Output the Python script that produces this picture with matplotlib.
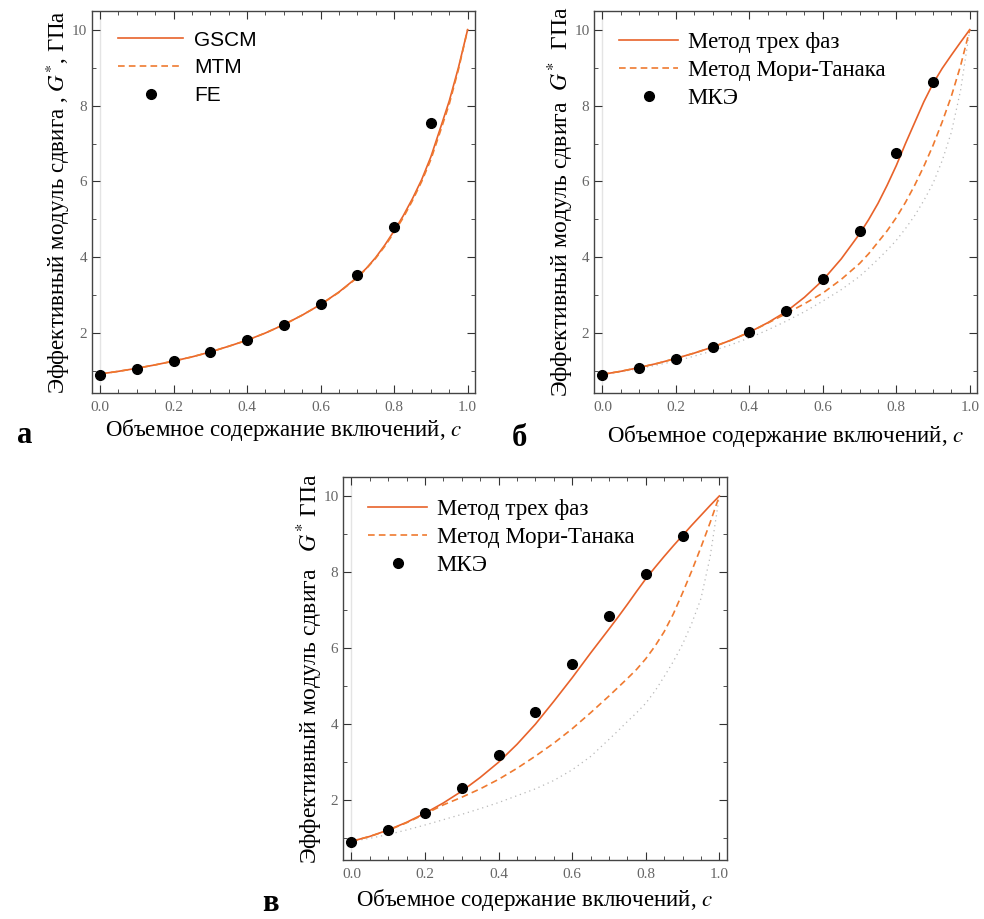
import matplotlib
matplotlib.use('Agg')
import matplotlib.pyplot as plt
from matplotlib.ticker import MultipleLocator

plt.rcParams['font.family'] = ['Liberation Serif', 'DejaVu Serif']
plt.rcParams['mathtext.fontset'] = 'stix'

# ---- data ----
x_fe = [0.0, 0.1, 0.2, 0.3, 0.4, 0.5, 0.6, 0.7, 0.8, 0.9]
x_line = [0.0, 0.05, 0.1, 0.15, 0.2, 0.25, 0.3, 0.35, 0.4, 0.45, 0.5, 0.55, 0.6, 0.65,
          0.7, 0.725, 0.75, 0.775, 0.8, 0.825, 0.85, 0.875, 0.9, 0.925, 0.95, 0.975, 1.0]

# panel a
a_gscm = [0.93, 1.0, 1.08, 1.17, 1.27, 1.38, 1.51, 1.66, 1.82, 2.01, 2.23, 2.48, 2.76, 3.09,
          3.48, 3.72, 4.0, 4.33, 4.70, 5.10, 5.55, 6.05, 6.65, 7.38, 8.12, 9.0, 10.0]
a_mtm = [0.93, 1.0, 1.08, 1.17, 1.27, 1.38, 1.51, 1.66, 1.82, 2.01, 2.23, 2.48, 2.76, 3.08,
         3.47, 3.71, 3.98, 4.30, 4.66, 5.05, 5.50, 6.0, 6.58, 7.30, 8.04, 8.95, 10.0]
a_fe = [0.90, 1.06, 1.27, 1.52, 1.82, 2.22, 2.77, 3.53, 4.80, 7.54]

# panel b
b_three = [0.92, 1.0, 1.10, 1.21, 1.34, 1.48, 1.64, 1.82, 2.03, 2.28, 2.57, 2.95, 3.40, 3.96,
           4.62, 5.0, 5.42, 5.90, 6.42, 7.0, 7.55, 8.10, 8.58, 8.98, 9.33, 9.67, 10.0]
b_mt = [0.92, 1.0, 1.10, 1.21, 1.34, 1.48, 1.64, 1.82, 2.03, 2.27, 2.52, 2.78, 3.06, 3.42,
        3.84, 4.10, 4.40, 4.70, 5.05, 5.45, 5.90, 6.40, 6.95, 7.57, 8.25, 9.05, 10.0]
b_low = [0.92, 0.99, 1.07, 1.17, 1.27, 1.40, 1.54, 1.70, 1.88, 2.09, 2.32, 2.57, 2.85, 3.15,
         3.50, 3.72, 3.95, 4.19, 4.45, 4.76, 5.10, 5.50, 5.95, 6.55, 7.30, 8.40, 10.0]
b_fe = [0.90, 1.10, 1.33, 1.63, 2.04, 2.60, 3.43, 4.69, 6.75, 8.61]

# panel c
c_three = [0.92, 1.05, 1.22, 1.42, 1.66, 1.93, 2.24, 2.60, 3.00, 3.47, 4.00, 4.60, 5.22, 5.87,
           6.50, 6.82, 7.15, 7.49, 7.82, 8.12, 8.41, 8.69, 8.96, 9.23, 9.49, 9.75, 10.0]
c_mt = [0.92, 1.05, 1.21, 1.41, 1.64, 1.88, 2.08, 2.30, 2.55, 2.84, 3.16, 3.50, 3.88, 4.30,
        4.74, 4.97, 5.20, 5.44, 5.72, 6.05, 6.43, 6.90, 7.45, 8.03, 8.65, 9.30, 10.0]
c_low = [0.92, 1.0, 1.10, 1.22, 1.35, 1.49, 1.63, 1.78, 1.94, 2.12, 2.30, 2.52, 2.80, 3.15,
         3.60, 3.83, 4.07, 4.30, 4.55, 4.87, 5.25, 5.65, 6.10, 6.65, 7.30, 8.40, 10.0]
c_fe = [0.90, 1.21, 1.67, 2.33, 3.20, 4.31, 5.57, 6.84, 7.96, 8.96]

x_ticks = [0.0, 0.2, 0.4, 0.6, 0.8, 1.0]
x_ticklabels = ['0.0', '0.2', '0.4', '0.6', '0.8', '1.0']
y_ticks = [2, 4, 6, 8, 10]

ORANGE = '#e8622a'
ORANGE2 = '#ef7a30'
DOT_GRAY = '#b8b8b8'
TICK_GRAY = '#666666'
DASH = (0, (4, 2.5))

xlabel = 'Объемное содержание включений, $c$'


def style_axes(ax, xpad):
    ax.set_xlim(-0.022, 1.02)
    ax.set_ylim(0.43, 10.49)
    ax.set_xticks(x_ticks)
    ax.set_xticklabels(x_ticklabels)
    ax.set_yticks(y_ticks)
    ax.xaxis.set_minor_locator(MultipleLocator(0.05))
    ax.yaxis.set_minor_locator(MultipleLocator(1))
    ax.tick_params(which='both', direction='in', top=True, right=True,
                   color='#333333', labelcolor=TICK_GRAY, labelsize=11)
    ax.tick_params(axis='x', which='major', pad=6)
    ax.tick_params(which='major', length=6, width=0.8)
    ax.tick_params(which='minor', length=3, width=0.6)
    for s in ax.spines.values():
        s.set_color('#444444')
        s.set_linewidth(1.0)
    ax.axvline(0, color='#e4e4e4', lw=1.0, zorder=0)
    ax.set_xlabel(xlabel, fontsize=16.5, color='black', labelpad=xpad)


fig = plt.figure(figsize=(9.84, 9.19), dpi=100)

# ---- panel a ----
ax1 = fig.add_axes([0.0935, 0.5724, 0.3892, 0.4156])
ax1.plot(x_line, a_gscm, color=ORANGE, lw=1.2, label='GSCM')
ax1.plot(x_line, a_mtm, color=ORANGE2, lw=1.2, ls=DASH, label='MTM')
ax1.plot(x_fe, a_fe, 'o', color='black', ms=7, label='FE')
style_axes(ax1, 2)
ax1.set_ylabel('Эффективный модуль сдвига , $G^{*}$, ГПа', fontsize=16.5, labelpad=0)
ax1.legend(loc='upper left', bbox_to_anchor=(0.02, 0.998), frameon=False,
           prop={'family': 'Liberation Sans', 'size': 15}, handlelength=3.1,
           handletextpad=0.55, labelspacing=0.42)

# ---- panel b ----
ax2 = fig.add_axes([0.604, 0.5724, 0.389, 0.4156])
ax2.plot(x_line, b_low, color=DOT_GRAY, lw=0.9, ls=(0, (1, 3)))
ax2.plot(x_line, b_three, color=ORANGE, lw=1.2, label='Метод трех фаз')
ax2.plot(x_line, b_mt, color=ORANGE2, lw=1.2, ls=DASH, label='Метод Мори-Танака')
ax2.plot(x_fe, b_fe, 'o', color='black', ms=7, label='МКЭ')
style_axes(ax2, 6)
ax2.set_ylabel('Эффективный модуль сдвига  $G^{*}$  ГПа', fontsize=17, labelpad=-1)
ax2.legend(loc='upper left', bbox_to_anchor=(0.01, 0.998), frameon=False,
           fontsize=16.5, handlelength=2.6, handletextpad=0.4, labelspacing=0.3)

# ---- panel c ----
ax3 = fig.add_axes([0.3489, 0.0642, 0.3896, 0.4164])
ax3.plot(x_line, c_low, color=DOT_GRAY, lw=0.9, ls=(0, (1, 3)))
ax3.plot(x_line, c_three, color=ORANGE, lw=1.2, label='Метод трех фаз')
ax3.plot(x_line, c_mt, color=ORANGE2, lw=1.2, ls=DASH, label='Метод Мори-Танака')
ax3.plot(x_fe, c_fe, 'o', color='black', ms=7, label='МКЭ')
style_axes(ax3, 4)
ax3.set_ylabel('Эффективный модуль сдвига   $G^{*}$ ГПа', fontsize=17, labelpad=-1)
ax3.legend(loc='upper left', bbox_to_anchor=(0.01, 0.998), frameon=False,
           fontsize=16.5, handlelength=2.6, handletextpad=0.4, labelspacing=0.3)

fig.text(0.017, 0.518, 'а', fontsize=22, fontweight='bold')
fig.text(0.52, 0.515, 'б', fontsize=22, fontweight='bold')
fig.text(0.266, 0.009, 'в', fontsize=22, fontweight='bold')

fig.savefig('out.png', dpi=100)
